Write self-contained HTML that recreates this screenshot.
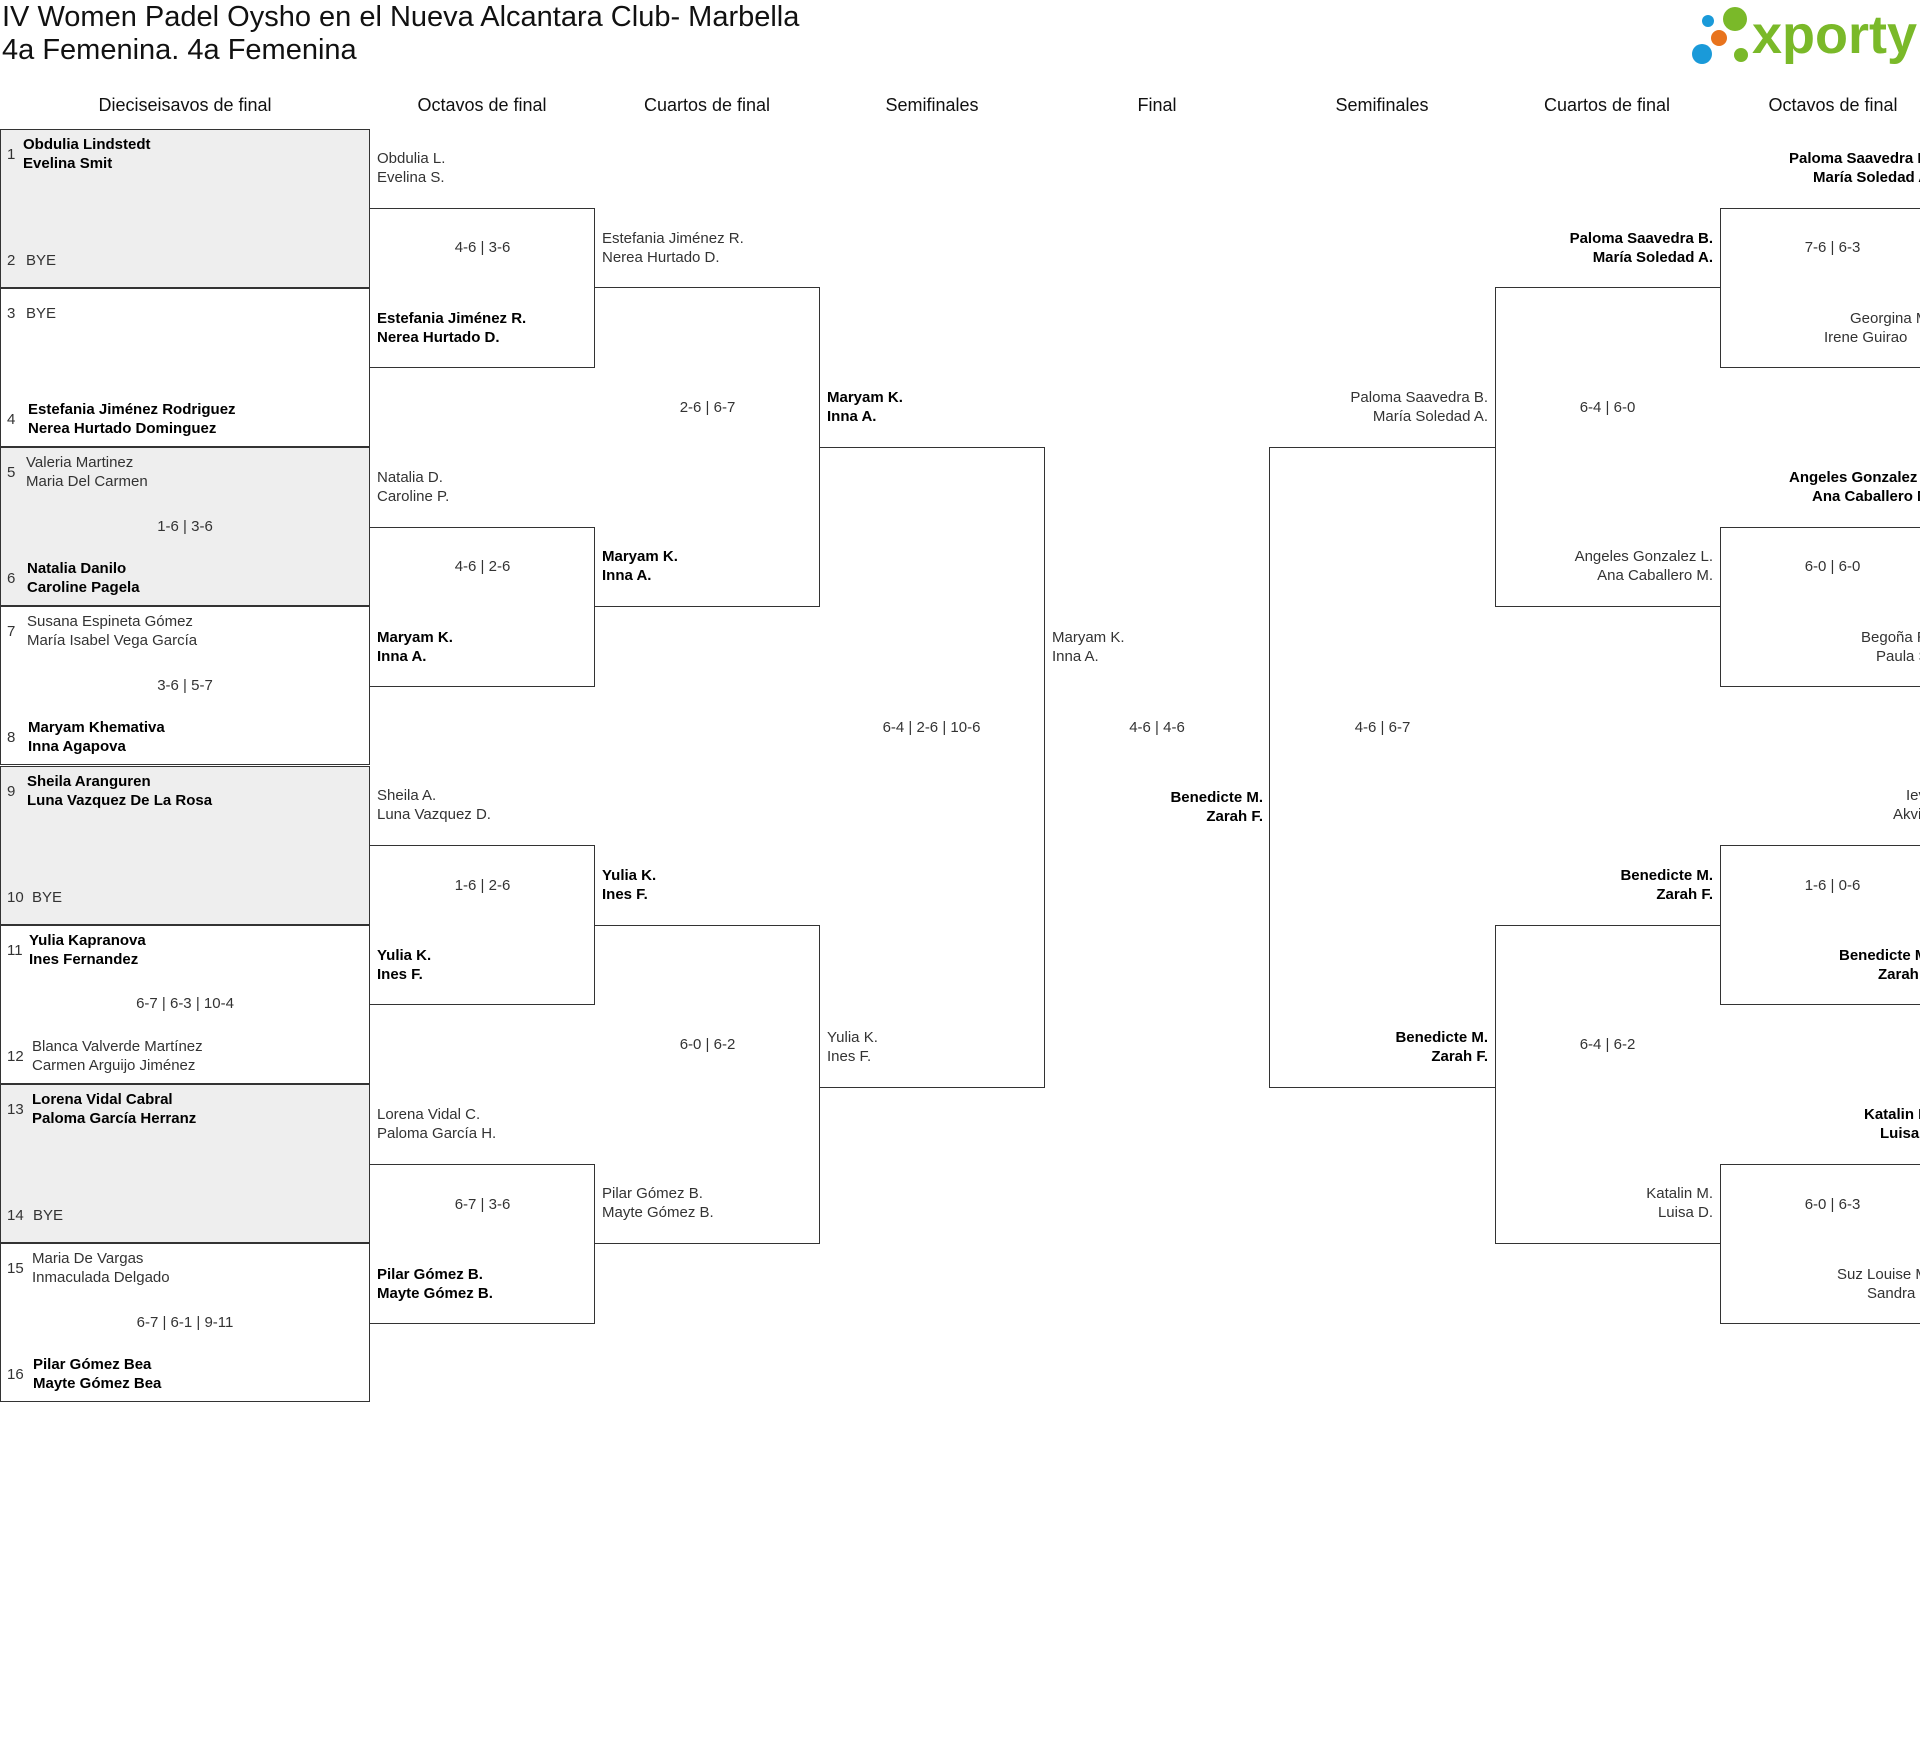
<!DOCTYPE html>
<html><head><meta charset="utf-8">
<style>
html,body{margin:0;padding:0;}
body{width:1920px;height:1737px;position:relative;overflow:hidden;background:#fff;font-family:"Liberation Sans",sans-serif;color:#222;}
div{position:absolute;box-sizing:border-box;}
.t{font-size:15px;line-height:19px;white-space:nowrap;}
.w{color:#000;font-weight:bold;}
.l{color:#333;}
.h{font-size:18px;width:300px;text-align:center;top:95px;color:#111;}
.b1{left:0;width:370px;height:159px;border:1px solid #333;}
.g{background:#eee;}
.bl{border-top:1px solid #333;border-bottom:1px solid #333;border-right:1px solid #333;height:160px;}
.br{border-top:1px solid #333;border-bottom:1px solid #333;border-left:1px solid #333;height:160px;}
.sc{text-align:center;}
.sd{font-size:15px;color:#333;}
.r{text-align:right;}
</style></head><body>

<div style="left:2px;top:1px;font-size:29px;line-height:33px;color:#111;">IV Women Padel Oysho en el Nueva Alcantara Club- Marbella<br>4a Femenina. 4a Femenina</div>

<svg style="position:absolute;left:1688px;top:2px" width="232" height="66">
<circle cx="20" cy="19" r="6" fill="#1a9ad9"/>
<circle cx="47" cy="17" r="12" fill="#7ab929"/>
<circle cx="31" cy="36" r="8" fill="#e8731d"/>
<circle cx="14" cy="52" r="10" fill="#1a9ad9"/>
<circle cx="53" cy="53" r="7" fill="#7ab929"/>
</svg>
<div style="left:1752px;top:2px;font-size:54px;line-height:66px;font-weight:bold;color:#7ab929;">xporty</div>

<div class="h" style="left:35px">Dieciseisavos de final</div>
<div class="h" style="left:332px">Octavos de final</div>
<div class="h" style="left:557px">Cuartos de final</div>
<div class="h" style="left:782px">Semifinales</div>
<div class="h" style="left:1007px">Final</div>
<div class="h" style="left:1232px">Semifinales</div>
<div class="h" style="left:1457px">Cuartos de final</div>
<div class="h" style="left:1683px">Octavos de final</div>

<div class="b1 g" style="top:129px"></div>
<div class="b1" style="top:288px"></div>
<div class="b1 g" style="top:447px"></div>
<div class="b1" style="top:606px"></div>
<div class="b1 g" style="top:766px"></div>
<div class="b1" style="top:925px"></div>
<div class="b1 g" style="top:1084px"></div>
<div class="b1" style="top:1243px"></div>

<div class="t sd" style="left:7px;top:145px">1</div>
<div class="t w" style="left:23px;top:135px">Obdulia Lindstedt<br>Evelina Smit</div>
<div class="t sd" style="left:7px;top:251px">2</div>
<div class="t l" style="left:26px;top:251px">BYE</div>

<div class="t sd" style="left:7px;top:304px">3</div>
<div class="t l" style="left:26px;top:304px">BYE</div>
<div class="t sd" style="left:7px;top:410px">4</div>
<div class="t w" style="left:28px;top:400px">Estefania Jiménez Rodriguez<br>Nerea Hurtado Dominguez</div>

<div class="t sd" style="left:7px;top:463px">5</div>
<div class="t l" style="left:26px;top:453px">Valeria Martinez<br>Maria Del Carmen</div>
<div class="t l sc" style="left:0;width:370px;top:517px">1-6 | 3-6</div>
<div class="t sd" style="left:7px;top:569px">6</div>
<div class="t w" style="left:27px;top:559px">Natalia Danilo<br>Caroline Pagela</div>

<div class="t sd" style="left:7px;top:622px">7</div>
<div class="t l" style="left:27px;top:612px">Susana Espineta Gómez<br>María Isabel Vega García</div>
<div class="t l sc" style="left:0;width:370px;top:676px">3-6 | 5-7</div>
<div class="t sd" style="left:7px;top:728px">8</div>
<div class="t w" style="left:28px;top:718px">Maryam Khemativa<br>Inna Agapova</div>

<div class="t sd" style="left:7px;top:782px">9</div>
<div class="t w" style="left:27px;top:772px">Sheila Aranguren<br>Luna Vazquez De La Rosa</div>
<div class="t sd" style="left:7px;top:888px">10</div>
<div class="t l" style="left:32px;top:888px">BYE</div>

<div class="t sd" style="left:7px;top:941px">11</div>
<div class="t w" style="left:29px;top:931px">Yulia Kapranova<br>Ines Fernandez</div>
<div class="t l sc" style="left:0;width:370px;top:994px">6-7 | 6-3 | 10-4</div>
<div class="t sd" style="left:7px;top:1047px">12</div>
<div class="t l" style="left:32px;top:1037px">Blanca Valverde Martínez<br>Carmen Arguijo Jiménez</div>

<div class="t sd" style="left:7px;top:1100px">13</div>
<div class="t w" style="left:32px;top:1090px">Lorena Vidal Cabral<br>Paloma García Herranz</div>
<div class="t sd" style="left:7px;top:1206px">14</div>
<div class="t l" style="left:33px;top:1206px">BYE</div>

<div class="t sd" style="left:7px;top:1259px">15</div>
<div class="t l" style="left:32px;top:1249px">Maria De Vargas<br>Inmaculada Delgado</div>
<div class="t l sc" style="left:0;width:370px;top:1313px">6-7 | 6-1 | 9-11</div>
<div class="t sd" style="left:7px;top:1365px">16</div>
<div class="t w" style="left:33px;top:1355px">Pilar Gómez Bea<br>Mayte Gómez Bea</div>

<div class="bl" style="left:369px;width:226px;top:208px"></div>
<div class="bl" style="left:369px;width:226px;top:527px"></div>
<div class="bl" style="left:369px;width:226px;top:845px"></div>
<div class="bl" style="left:369px;width:226px;top:1164px"></div>

<div class="t l" style="left:377px;top:149px">Obdulia L.<br>Evelina S.</div>
<div class="t l sc" style="left:370px;width:225px;top:238px">4-6 | 3-6</div>
<div class="t w" style="left:377px;top:309px">Estefania Jiménez R.<br>Nerea Hurtado D.</div>

<div class="t l" style="left:377px;top:468px">Natalia D.<br>Caroline P.</div>
<div class="t l sc" style="left:370px;width:225px;top:557px">4-6 | 2-6</div>
<div class="t w" style="left:377px;top:628px">Maryam K.<br>Inna A.</div>

<div class="t l" style="left:377px;top:786px">Sheila A.<br>Luna Vazquez D.</div>
<div class="t l sc" style="left:370px;width:225px;top:876px">1-6 | 2-6</div>
<div class="t w" style="left:377px;top:946px">Yulia K.<br>Ines F.</div>

<div class="t l" style="left:377px;top:1105px">Lorena Vidal C.<br>Paloma García H.</div>
<div class="t l sc" style="left:370px;width:225px;top:1195px">6-7 | 3-6</div>
<div class="t w" style="left:377px;top:1265px">Pilar Gómez B.<br>Mayte Gómez B.</div>

<div class="bl" style="left:594px;width:226px;top:287px;height:320px"></div>
<div class="bl" style="left:594px;width:226px;top:925px;height:319px"></div>
<div class="t l" style="left:602px;top:229px">Estefania Jiménez R.<br>Nerea Hurtado D.</div>
<div class="t l sc" style="left:595px;width:225px;top:398px">2-6 | 6-7</div>
<div class="t w" style="left:602px;top:547px">Maryam K.<br>Inna A.</div>
<div class="t w" style="left:602px;top:866px">Yulia K.<br>Ines F.</div>
<div class="t l sc" style="left:595px;width:225px;top:1035px">6-0 | 6-2</div>
<div class="t l" style="left:602px;top:1184px">Pilar Gómez B.<br>Mayte Gómez B.</div>

<div class="bl" style="left:819px;width:226px;top:447px;height:641px"></div>
<div class="t w" style="left:827px;top:388px">Maryam K.<br>Inna A.</div>
<div class="t l sc" style="left:819px;width:225px;top:718px">6-4 | 2-6 | 10-6</div>
<div class="t l" style="left:827px;top:1028px">Yulia K.<br>Ines F.</div>

<div class="t l" style="left:1052px;top:628px">Maryam K.<br>Inna A.</div>
<div class="t l sc" style="left:1044px;width:226px;top:718px">4-6 | 4-6</div>
<div class="t w r" style="right:657px;top:788px">Benedicte M.<br>Zarah F.</div>

<div class="br" style="left:1269px;width:227px;top:447px;height:641px"></div>
<div class="t l r" style="right:432px;top:388px">Paloma Saavedra B.<br>María Soledad A.</div>
<div class="t l sc" style="left:1270px;width:225px;top:718px">4-6 | 6-7</div>
<div class="t w r" style="right:432px;top:1028px">Benedicte M.<br>Zarah F.</div>

<div class="br" style="left:1495px;width:226px;top:287px;height:320px"></div>
<div class="br" style="left:1495px;width:226px;top:925px;height:319px"></div>
<div class="t w r" style="right:207px;top:229px">Paloma Saavedra B.<br>María Soledad A.</div>
<div class="t l sc" style="left:1495px;width:225px;top:398px">6-4 | 6-0</div>
<div class="t l r" style="right:207px;top:547px">Angeles Gonzalez L.<br>Ana Caballero M.</div>
<div class="t w r" style="right:207px;top:866px">Benedicte M.<br>Zarah F.</div>
<div class="t l sc" style="left:1495px;width:225px;top:1035px">6-4 | 6-2</div>
<div class="t l r" style="right:207px;top:1184px">Katalin M.<br>Luisa D.</div>

<div class="br" style="left:1720px;width:240px;top:208px"></div>
<div class="br" style="left:1720px;width:240px;top:527px"></div>
<div class="br" style="left:1720px;width:240px;top:845px"></div>
<div class="br" style="left:1720px;width:240px;top:1164px"></div>

<div class="t w" style="left:1789px;top:149px">Paloma Saavedra B.</div>
<div class="t w" style="left:1813px;top:168px">María Soledad A.</div>
<div class="t l sc" style="left:1720px;width:225px;top:238px">7-6 | 6-3</div>
<div class="t l" style="left:1850px;top:309px">Georgina M.</div>
<div class="t l" style="left:1824px;top:328px">Irene Guirao</div>

<div class="t w" style="left:1789px;top:468px">Angeles Gonzalez L.</div>
<div class="t w" style="left:1812px;top:487px">Ana Caballero M.</div>
<div class="t l sc" style="left:1720px;width:225px;top:557px">6-0 | 6-0</div>
<div class="t l" style="left:1861px;top:628px">Begoña R.</div>
<div class="t l" style="left:1876px;top:647px">Paula S.</div>

<div class="t l" style="left:1906px;top:786px">Ieva S.</div>
<div class="t l" style="left:1893px;top:805px">Akvile B.</div>
<div class="t l sc" style="left:1720px;width:225px;top:876px">1-6 | 0-6</div>
<div class="t w" style="left:1839px;top:946px">Benedicte M.</div>
<div class="t w" style="left:1878px;top:965px">Zarah F.</div>

<div class="t w" style="left:1864px;top:1105px">Katalin M.</div>
<div class="t w" style="left:1880px;top:1124px">Luisa D.</div>
<div class="t l sc" style="left:1720px;width:225px;top:1195px">6-0 | 6-3</div>
<div class="t l" style="left:1837px;top:1265px">Suz Louise M.</div>
<div class="t l" style="left:1867px;top:1284px">Sandra P.</div>

</body></html>
